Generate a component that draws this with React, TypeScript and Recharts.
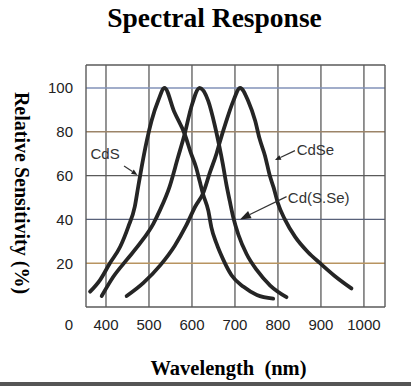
import React from 'react';
import { LineChart, Line, XAxis, YAxis, ReferenceLine, ReferenceDot, Label } from 'recharts';

// ---- data (wavelength nm / relative sensitivity %) ----
const cdsNm = [363, 386, 409, 433, 452, 467, 475, 483, 495, 506, 522, 536, 559, 583, 598, 610, 618, 626, 638, 645, 657, 673, 692, 720, 751, 789];
const cdsVal = [7, 12.3, 20, 27.5, 36.7, 45.8, 55, 64, 76, 85, 94.5, 100, 89, 79, 70, 63.5, 57.4, 51.4, 44, 36.5, 29, 21.5, 14.5, 9.2, 5.5, 3.8];

const cdsseNm = [390, 417, 448, 479, 510, 525, 548, 567, 583, 598, 618, 638, 653, 663, 672, 680, 688, 696, 708, 727, 751, 782, 820];
const cdsseVal = [5, 13.8, 21.5, 29, 38, 44, 55, 68, 79, 91, 100, 94, 83, 74, 65, 56, 48.3, 41, 33, 24.2, 16.8, 9.8, 4.5];

const cdseNm = [448, 487, 526, 560, 586, 608, 626, 641, 657, 665, 680, 696, 712, 731, 747, 757, 770, 781, 790, 800, 816, 840, 870, 898, 932, 971];
const cdseVal = [5, 11, 19, 28, 37, 46, 52, 61, 70, 75.5, 85, 94, 100, 94, 85, 77, 69, 60, 54.5, 47.3, 40, 32, 25, 20, 14.2, 8.5];

const xTicks = [400, 500, 600, 700, 800, 900, 1000];
const yTicks = [0, 20, 40, 60, 80, 100];
const gridY = [20, 40, 60, 80, 100];

const labels = ['CdS', 'CdSe', 'Cd(S.Se)'];
// annotation anchors in data coordinates [nm, %]
const labelPos: [number, number][] = [[398, 70.3], [843.5, 71.7], [823, 50.2]];
const arrowFrom: [number, number][] = [[442, 64.4], [839.5, 71.4], [820, 50.4]];
const arrowTo: [number, number][] = [[473, 60.3], [793, 67.1], [711.6, 40]];

const toRows = (nm: number[], val: number[]) => nm.map((x, i) => ({ nm: x, v: val[i] }));
const cdsData = toRows(cdsNm, cdsVal);
const cdsseData = toRows(cdsseNm, cdsseVal);
const cdseData = toRows(cdseNm, cdseVal);

const X_DOMAIN: [number, number] = [353.5, 1049];
const Y_DOMAIN: [number, number] = [0, 110.5];

const gridColor: Record<number, string> = {
  100: '#8292b8',
  80: '#9c8468',
  60: '#5a5a5a',
  40: '#58617a',
  20: '#b89460',
};

const SANS = '"Liberation Sans", Arial, sans-serif';
const SERIF = '"Liberation Serif", "Times New Roman", serif';
const LINE_COLOR = '#252525';
const BOX = '#5a5a5a';

const XTick = (p: any) => (
  <text x={p.x} y={p.y + 17} textAnchor="middle" dominantBaseline="central" fontSize={15} fontFamily={SANS} fill="#222">
    {p.payload.value}
  </text>
);

const YTick = (p: any) => (
  <text
    x={p.x - 13}
    y={p.y + (p.payload.value === 0 ? 17 : 0)}
    textAnchor="end"
    dominantBaseline="central"
    fontSize={15}
    fontFamily={SANS}
    fill="#222"
  >
    {p.payload.value}
  </text>
);

const makeArrow = (head: number, width: number) => (p: any) => {
  const { x1, y1, x2, y2 } = p;
  const dx = x2 - x1;
  const dy = y2 - y1;
  const len = Math.sqrt(dx * dx + dy * dy) || 1;
  const ux = dx / len;
  const uy = dy / len;
  const bx = x2 - ux * head;
  const by = y2 - uy * head;
  const px = -uy * (width / 2);
  const py = ux * (width / 2);
  return (
    <g>
      <line x1={x1} y1={y1} x2={bx} y2={by} stroke="#333" strokeWidth={1.2} />
      <polygon points={`${x2},${y2} ${bx + px},${by + py} ${bx - px},${by - py}`} fill="#222" />
    </g>
  );
};

const arrowShapes = [makeArrow(6, 5), makeArrow(6, 5), makeArrow(11, 8)];
const labelAnchors = ['middle', 'start', 'start'];

const App = () => {
  return (
    <div style={{ position: 'absolute', left: 0, top: 0, width: 411, height: 386, background: '#fff', overflow: 'hidden' }}>
      <svg width={411} height={40} style={{ position: 'absolute', left: 0, top: 0 }}>
        <text x={214.5} y={26.5} textAnchor="middle" fontFamily={SERIF} fontWeight="bold" fontSize={27.5} fill="#000">
          Spectral Response
        </text>
      </svg>
      <div style={{ position: 'absolute', left: 0, top: 0 }}>
        <LineChart width={411} height={386} margin={{ top: 65, right: 26, bottom: 49, left: 0 }}>
          <XAxis
            dataKey="nm"
            type="number"
            domain={X_DOMAIN}
            ticks={xTicks}
            allowDataOverflow
            tickLine={false}
            tickSize={0}
            tickMargin={0}
            height={30}
            axisLine={{ stroke: BOX, strokeWidth: 1.4 }}
            tick={XTick}
          >
            <Label
              content={(p: any) => {
                const vb = p.viewBox || { x: 86, y: 307, width: 299, height: 30 };
                return (
                  <text
                    x={vb.x + vb.width / 2 - 7}
                    y={vb.y + 68}
                    textAnchor="middle"
                    fontFamily={SERIF}
                    fontWeight="bold"
                    fontSize={20.5}
                    fill="#000"
                    style={{ whiteSpace: 'pre' }}
                  >
                    {'Wavelength  (nm)'}
                  </text>
                );
              }}
            />
          </XAxis>
          <YAxis
            type="number"
            domain={Y_DOMAIN}
            ticks={yTicks}
            allowDataOverflow
            width={86}
            tickLine={false}
            tickSize={0}
            tickMargin={0}
            axisLine={{ stroke: BOX, strokeWidth: 1.4 }}
            tick={YTick}
          >
            <Label
              content={(p: any) => {
                const vb = p.viewBox || { x: 0, y: 65, width: 86, height: 242 };
                const cx = 22;
                const cy = vb.y + vb.height / 2 + 7;
                return (
                  <text
                    x={cx}
                    y={cy}
                    transform={`rotate(90 ${cx} ${cy})`}
                    textAnchor="middle"
                    dominantBaseline="central"
                    fontFamily={SERIF}
                    fontWeight="bold"
                    fontSize={20}
                    fill="#000"
                  >
                    Relative Sensitivity (%)
                  </text>
                );
              }}
            />
          </YAxis>

          {xTicks.map((t) => (
            <ReferenceLine key={'vx' + t} x={t} stroke={BOX} strokeWidth={1.3} ifOverflow="visible" />
          ))}
          {gridY.map((t) => (
            <ReferenceLine key={'hy' + t} y={t} stroke={gridColor[t]} strokeWidth={1.4} ifOverflow="visible" />
          ))}
          <ReferenceLine y={Y_DOMAIN[1]} stroke={BOX} strokeWidth={1.4} ifOverflow="visible" />
          <ReferenceLine x={X_DOMAIN[1]} stroke={BOX} strokeWidth={1.4} ifOverflow="visible" />

          <Line data={cdsData} dataKey="v" type="monotone" stroke={LINE_COLOR} strokeWidth={3.8} dot={false} isAnimationActive={false} strokeLinecap="round" />
          <Line data={cdsseData} dataKey="v" type="monotone" stroke={LINE_COLOR} strokeWidth={3.8} dot={false} isAnimationActive={false} strokeLinecap="round" />
          <Line data={cdseData} dataKey="v" type="monotone" stroke={LINE_COLOR} strokeWidth={3.8} dot={false} isAnimationActive={false} strokeLinecap="round" />

          {labels.map((_, i) => (
            <ReferenceLine
              key={'ar' + i}
              segment={[
                { x: arrowFrom[i][0], y: arrowFrom[i][1] },
                { x: arrowTo[i][0], y: arrowTo[i][1] },
              ]}
              ifOverflow="visible"
              shape={arrowShapes[i]}
            />
          ))}
          {labels.map((txt, i) => (
            <ReferenceDot
              key={'lb' + i}
              x={labelPos[i][0]}
              y={labelPos[i][1]}
              r={0}
              ifOverflow="visible"
              shape={(p: any) => (
                <text
                  x={p.cx}
                  y={p.cy}
                  textAnchor={labelAnchors[i] as any}
                  dominantBaseline="central"
                  fontFamily={SANS}
                  fontSize={15}
                  fill="#333"
                >
                  {txt}
                </text>
              )}
            />
          ))}
        </LineChart>
      </div>
      <div style={{ position: 'absolute', left: 0, top: 382, width: 411, height: 4, background: '#555' }} />
    </div>
  );
};

export default App;
